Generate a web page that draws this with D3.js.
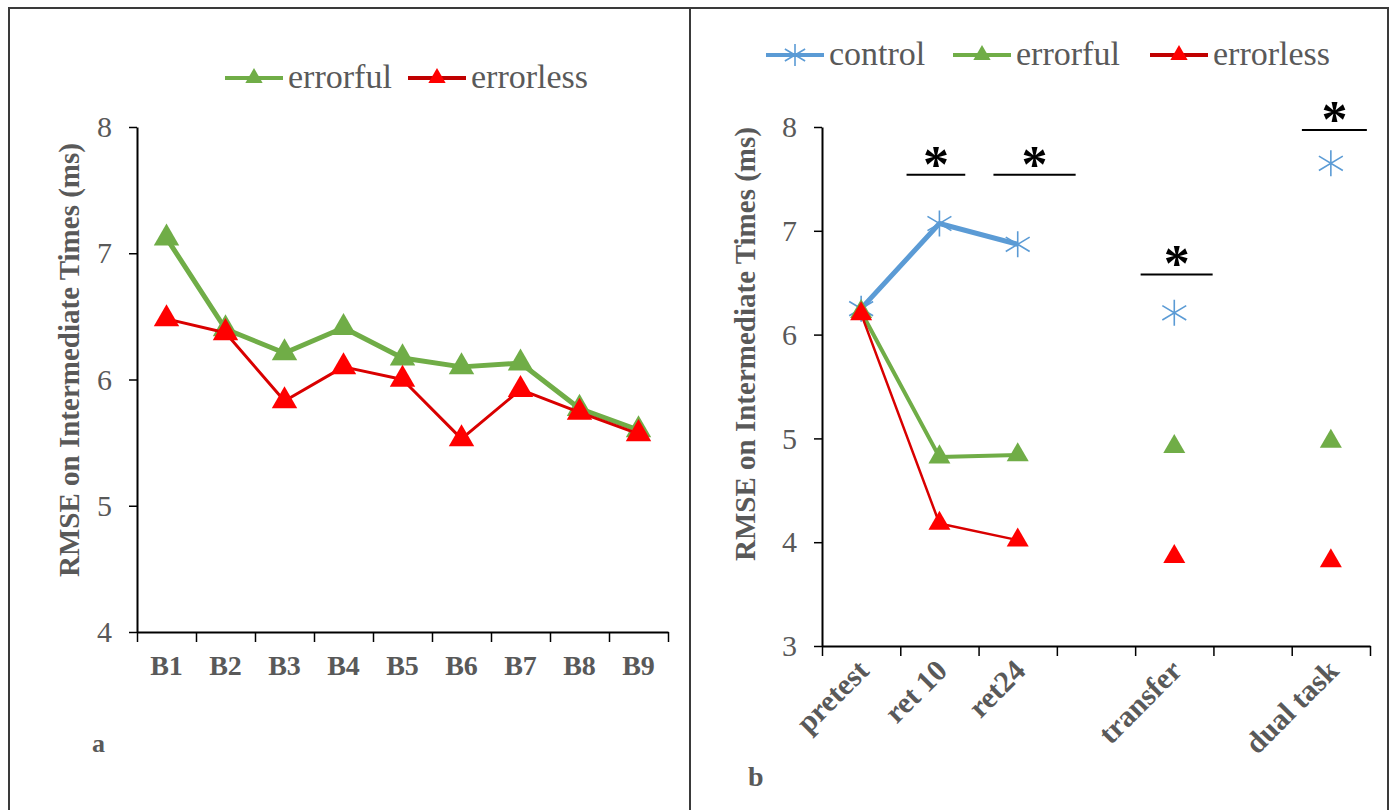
<!DOCTYPE html>
<html>
<head>
<meta charset="utf-8">
<script src="https://cdnjs.cloudflare.com/ajax/libs/d3/7.8.5/d3.min.js"></script>
<style>
body { margin: 0; background: #fff; }
text { font-family: "Liberation Serif", "Times New Roman", serif; fill: #595959; }
.axis path, .axis line { stroke: #000; }
</style>
</head>
<body>
<div id="chart"></div>
<script>
// panel a: blocks of acquisition
var blocks = ["B1", "B2", "B3", "B4", "B5", "B6", "B7", "B8", "B9"];
var errorfulA = [7.12, 6.40, 6.21, 6.41, 6.17, 6.10, 6.13, 5.77, 5.60];
var errorlessA = [6.48, 6.37, 5.83, 6.10, 6.00, 5.53, 5.92, 5.74, 5.57];
var ticksA = [4, 5, 6, 7, 8];

// panel b: tests (empty slots are gaps on the axis)
var phases = ["pretest", "ret 10", "ret24", "", "transfer", "", "dual task"];
var controlB = [6.25, 7.07, 6.87, null, 6.21, null, 7.65];
var errorfulB = [6.22, 4.82, 4.84, null, 4.92, null, 4.97];
var errorlessB = [6.20, 4.18, 4.02, null, 3.86, null, 3.82];
var ticksB = [3, 4, 5, 6, 7, 8];

// significance bars, in category units and ms
var sigFrom = [0.58, 1.69, 3.57, 5.63];
var sigTo = [1.33, 2.74, 4.49, 6.46];
var sigY = [7.54, 7.54, 6.58, 7.97];

var GREEN = "#70ad47", RED = "#ff0000", REDLINE = "#d90000", BLUE = "#5b9bd5";
var yTitle = "RMSE on Intermediate Times (ms)";

var svg = d3.select("#chart").append("svg")
    .attr("width", 1394)
    .attr("height", 810);

svg.append("rect").attr("width", 1394).attr("height", 810).attr("fill", "#fff");

// outer frame and divider
svg.append("rect")
    .attr("x", 9).attr("y", 8).attr("width", 1379).attr("height", 830)
    .attr("fill", "none").attr("stroke", "#3a3a3a").attr("stroke-width", 2);
svg.append("line")
    .attr("x1", 690).attr("x2", 690).attr("y1", 8).attr("y2", 810)
    .attr("stroke", "#3a3a3a").attr("stroke-width", 2);

function tri(size) { return d3.symbol(d3.symbolTriangle, size)(); }
function star(r) {
    return "M0," + (-r) + "V" + r +
        "M" + (-r * 0.92) + "," + (-r * 0.55) + "L" + (r * 0.92) + "," + (r * 0.55) +
        "M" + (-r * 0.92) + "," + (r * 0.55) + "L" + (r * 0.92) + "," + (-r * 0.55);
}

function drawAxes(g, x, y, ticks, n) {
    var bounds = d3.scaleLinear().domain([0, n]).range(x.range());
    var y0 = y.range()[0];

    g.append("g").attr("class", "axis")
        .attr("transform", "translate(" + x.range()[0] + ",0)")
        .call(d3.axisLeft(y).tickValues(ticks).tickFormat(d3.format("d"))
            .tickSize(8).tickPadding(17).tickSizeOuter(0))
        .call(function(a) {
            a.selectAll("path").attr("stroke-width", 2);
            a.selectAll("line").attr("stroke-width", 1.5);
            a.selectAll("text").attr("font-size", 30).attr("fill", "#595959")
                .attr("font-family", "Liberation Serif");
        });

    g.append("g").attr("class", "axis")
        .attr("transform", "translate(0," + y0 + ")")
        .call(d3.axisBottom(bounds).tickValues(d3.range(n + 1)).tickSize(10).tickFormat("").tickSizeOuter(0))
        .call(function(a) {
            a.selectAll("path").attr("stroke-width", 2);
            a.selectAll("line").attr("stroke-width", 1.5);
        });
}

function drawSeries(g, x, y, values, color, lineColor, lineWidth, marker) {
    var line = d3.line()
        .defined(function(d) { return d != null; })
        .x(function(d, i) { return x(i) + x.bandwidth() / 2; })
        .y(function(d) { return y(d); });

    g.append("path")
        .datum(values)
        .attr("d", line)
        .attr("fill", "none")
        .attr("stroke", lineColor)
        .attr("stroke-width", lineWidth)
        .attr("stroke-linejoin", "round");

    var pts = values.map(function(v, i) { return {v: v, i: i}; })
        .filter(function(d) { return d.v != null; });

    var m = g.selectAll(null).data(pts).enter().append("path")
        .attr("transform", function(d) {
            return "translate(" + (x(d.i) + x.bandwidth() / 2) + "," + y(d.v) + ")";
        });
    if (marker.type === "star") {
        m.attr("d", star(marker.r)).attr("fill", "none")
            .attr("stroke", color).attr("stroke-width", 1.6);
    } else {
        m.attr("d", tri(marker.size)).attr("fill", color);
    }
}

function legendItem(g, x, y, label, color, lineColor, marker) {
    g.append("line")
        .attr("x1", x).attr("x2", x + 58).attr("y1", y).attr("y2", y)
        .attr("stroke", lineColor).attr("stroke-width", 4);
    var m = g.append("path").attr("transform", "translate(" + (x + 29) + "," + y + ")");
    if (marker === "star") {
        m.attr("d", star(11)).attr("fill", "none").attr("stroke", color).attr("stroke-width", 1.6);
    } else {
        m.attr("d", tri(130)).attr("fill", color);
    }
    g.append("text")
        .attr("x", x + 63).attr("y", y + 10)
        .attr("font-size", 34)
        .text(label);
}

// ---------- panel a ----------
var xA = d3.scaleBand().domain(d3.range(blocks.length)).range([137, 668]);
var yA = d3.scaleLinear().domain([4, 8]).range([632, 127]);
var gA = svg.append("g");

drawAxes(gA, xA, yA, ticksA, blocks.length);

gA.selectAll(".xlab").data(blocks).enter().append("text")
    .attr("class", "xlab")
    .attr("x", function(d, i) { return xA(i) + xA.bandwidth() / 2; })
    .attr("y", 675)
    .attr("text-anchor", "middle")
    .attr("font-size", 28)
    .attr("font-weight", "bold")
    .text(function(d) { return d; });

gA.append("text")
    .attr("transform", "translate(79,360) rotate(-90)")
    .attr("text-anchor", "middle")
    .attr("font-size", 29)
    .attr("font-weight", "bold")
    .text(yTitle);

drawSeries(gA, xA, yA, errorfulA, GREEN, GREEN, 5, {type: "tri", size: 280});
drawSeries(gA, xA, yA, errorlessA, RED, REDLINE, 3, {type: "tri", size: 280});

legendItem(gA, 225, 78, "errorful", GREEN, GREEN, "tri");
legendItem(gA, 408, 78, "errorless", RED, "#c00000", "tri");

gA.append("text")
    .attr("x", 92).attr("y", 752)
    .attr("font-size", 26).attr("font-weight", "bold")
    .text("a");

// ---------- panel b ----------
var xB = d3.scaleBand().domain(d3.range(phases.length)).range([822, 1370]);
var yB = d3.scaleLinear().domain([3, 8]).range([646, 127]);
var gB = svg.append("g");

drawAxes(gB, xB, yB, ticksB, phases.length);

gB.selectAll(".xlab").data(phases).enter().append("text")
    .attr("class", "xlab")
    .attr("transform", function(d, i) {
        return "translate(" + (xB(i) + xB.bandwidth() / 2 + 2) + ",665) rotate(-45)";
    })
    .attr("dy", "0.35em")
    .attr("text-anchor", "end")
    .attr("font-size", 30)
    .attr("font-weight", "bold")
    .text(function(d) { return d; });

gB.append("text")
    .attr("transform", "translate(755,344) rotate(-90)")
    .attr("text-anchor", "middle")
    .attr("font-size", 29)
    .attr("font-weight", "bold")
    .text(yTitle);

drawSeries(gB, xB, yB, controlB, BLUE, BLUE, 5, {type: "star", r: 13});
drawSeries(gB, xB, yB, errorfulB, GREEN, GREEN, 4, {type: "tri", size: 210});
drawSeries(gB, xB, yB, errorlessB, RED, REDLINE, 2.5, {type: "tri", size: 210});

// significance marks
var xIdx = d3.scaleLinear().domain([0, phases.length - 1])
    .range([xB(0) + xB.bandwidth() / 2, xB(phases.length - 1) + xB.bandwidth() / 2]);
var sig = sigY.map(function(v, i) { return {y: v, a: sigFrom[i], b: sigTo[i]}; });

gB.selectAll(".sigbar").data(sig).enter().append("line")
    .attr("class", "sigbar")
    .attr("x1", function(d) { return xIdx(d.a); })
    .attr("x2", function(d) { return xIdx(d.b); })
    .attr("y1", function(d) { return yB(d.y); })
    .attr("y2", function(d) { return yB(d.y); })
    .attr("stroke", "#000").attr("stroke-width", 2);

gB.selectAll(".sigstar").data(sig).enter().append("text")
    .attr("class", "sigstar")
    .attr("x", function(d) { return xIdx((d.a + d.b) / 2); })
    .attr("y", function(d) { return yB(d.y) - 23 + 52 * 0.575; })
    .attr("text-anchor", "middle")
    .attr("font-family", "Liberation Sans")
    .attr("font-weight", "bold")
    .attr("font-size", 52)
    .style("fill", "#000")
    .text("*");

legendItem(gB, 766, 55, "control", BLUE, BLUE, "star");
legendItem(gB, 953, 55, "errorful", GREEN, GREEN, "tri");
legendItem(gB, 1150, 55, "errorless", RED, "#c00000", "tri");

gB.append("text")
    .attr("x", 748).attr("y", 786)
    .attr("font-size", 28).attr("font-weight", "bold")
    .text("b");
</script>
</body>
</html>
